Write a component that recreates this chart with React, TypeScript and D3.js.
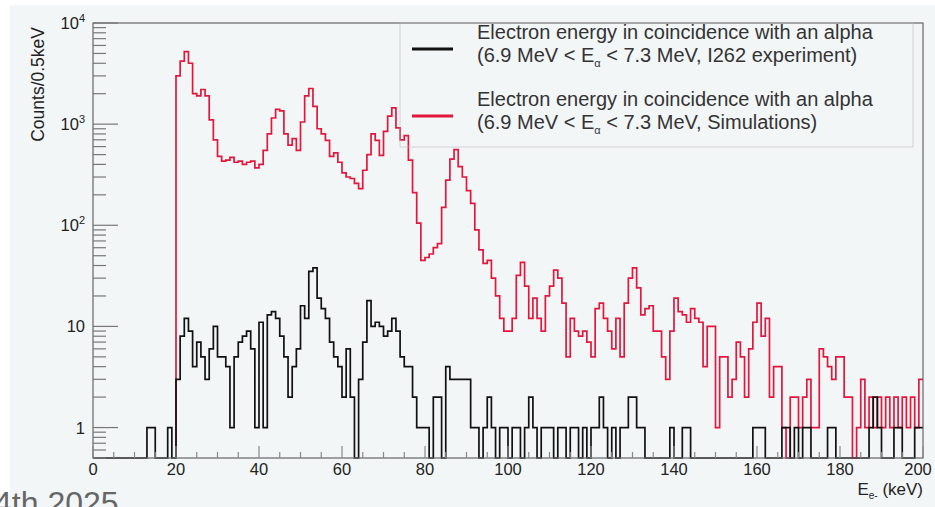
import React, { useEffect, useRef } from 'react';
import * as d3 from 'd3';

// histogram contents, 1 keV bins
const blackStart = 0;
const blackCounts = [
  0, 0, 0, 0, 0, 0, 0, 0, 0, 0, 0, 0, 0,
  1, 1, 0, 0, 0, 1, 0,
  3, 8, 12, 9, 4, 7, 5, 3, 6, 10,
  5, 5, 4, 1, 5, 7, 8, 9, 6, 1,
  11, 1, 13, 14, 12, 8, 5, 2, 4, 6,
  16, 12, 35, 38, 19, 15, 12, 7, 5, 4,
  2, 6, 2, 0, 3, 7, 18, 10, 11, 10,
  8, 9, 12, 9, 5, 4, 4, 2, 1, 1,
  1, 0, 2, 2, 0, 4, 3, 3, 3, 3,
  3, 1, 1, 0, 1, 2, 1, 0, 1, 1,
  0, 1, 1, 0, 1, 2, 1, 0, 1, 1,
  1, 0, 1, 1, 0, 1, 1, 0, 1, 0,
  1, 1, 2, 1, 0, 1, 0, 1, 1, 2,
  2, 1, 1, 0, 0, 0, 0, 0, 0, 1,
  0, 0, 1, 1, 0, 0, 0, 0, 0, 0,
  0, 0, 0, 0, 0, 0, 0, 0, 0, 1,
  1, 1, 0, 0, 0, 0, 1, 1, 0, 1,
  0, 1, 1, 0, 0, 0, 0, 1, 1, 0,
  0, 0, 0, 0, 0, 0, 0, 1, 2, 1,
  0, 0, 0, 1, 1, 0, 0, 0, 1, 1,
];

const redStart = 20;
const redCounts = [
  3000, 4200, 5200, 4000, 2000, 1900, 2200, 1900, 1100, 700,
  480, 430, 440, 470, 420, 430, 400, 420, 430, 370,
  400, 550, 800, 1150, 1400, 1350, 800, 620, 720, 550,
  1050, 1900, 2250, 1500, 900, 800, 690, 480, 520, 420,
  330, 300, 290, 260, 230, 350, 500, 800, 690, 490,
  850, 1200, 1450, 920, 700, 770, 440, 210, 105, 45,
  48, 52, 60, 66, 150, 280, 450, 560, 380, 300,
  220, 165, 90, 57, 42, 45, 30, 20, 12, 9,
  9, 12, 32, 43, 25, 12, 19, 12, 9, 20,
  25, 36, 30, 17, 5, 12, 9, 8, 9, 7,
  5, 15, 17, 12, 9, 6, 12, 5, 17, 30,
  38, 24, 13, 15, 16, 9, 9, 5, 3, 9,
  19, 14, 13, 11, 15, 12, 11, 4, 10, 10,
  1, 5, 5, 2, 3, 7, 5, 2, 6, 11,
  17, 8, 12, 2, 4, 4, 1, 0, 2, 2,
  1, 2, 3, 1, 1, 6, 5, 4, 3, 5,
  5, 2, 2, 0, 1, 3, 1, 2, 1, 2,
  1, 2, 1, 2, 1, 2, 1, 2, 1, 3,
];

const xTicks = [0, 20, 40, 60, 80, 100, 120, 140, 160, 180, 200];
const yMajor = [1, 10, 100, 1000, 10000];
const yLabels = [['1', ''], ['10', ''], ['10', '2'], ['10', '3'], ['10', '4']];

const legendTitle = 'Electron energy in coincidence with an alpha';
const legendTails = [' < 7.3 MeV, I262 experiment)', ' < 7.3 MeV, Simulations)'];
const legendColors = ['#111111', '#e3173c'];

const font = '"Liberation Sans", Arial, sans-serif';

const App = () => {
  const svgRef = useRef(null);
  const width = 935;
  const height = 507;

  useEffect(() => {
    const svg = d3.select(svgRef.current);
    svg.selectAll('*').remove();

    const frame = { left: 93, right: 923, top: 23, bottom: 458 };

    const x = d3.scaleLinear().domain([0, 200]).range([frame.left, frame.right]);
    const y = d3
      .scaleLog()
      .domain([0.5, 10000])
      .range([frame.bottom, frame.top])
      .clamp(true);

    // pad background
    svg.append('rect').attr('width', width).attr('height', height).attr('fill', '#ffffff');
    svg
      .append('rect')
      .attr('x', 10)
      .attr('y', 5)
      .attr('width', width - 10)
      .attr('height', height - 5)
      .attr('fill', '#f3f6f7');

    // histograms as step lines
    const stepLine = d3
      .line()
      .x(d => x(d[0]))
      .y(d => y(d[1] > 0 ? d[1] : 0.5))
      .curve(d3.curveStepAfter);

    const toPoints = (start, counts) => {
      const pts = [[start, 0]];
      counts.forEach((c, i) => pts.push([start + i, c]));
      pts.push([start + counts.length, counts[counts.length - 1]]);
      return pts;
    };

    const plot = svg.append('g');
    plot
      .append('path')
      .attr('d', stepLine(toPoints(redStart, redCounts)))
      .attr('fill', 'none')
      .attr('stroke', legendColors[1])
      .attr('stroke-width', 1.7);
    plot
      .append('path')
      .attr('d', stepLine(toPoints(blackStart, blackCounts)))
      .attr('fill', 'none')
      .attr('stroke', legendColors[0])
      .attr('stroke-width', 1.7);

    // frame
    svg
      .append('rect')
      .attr('x', frame.left)
      .attr('y', frame.top)
      .attr('width', frame.right - frame.left)
      .attr('height', frame.bottom - frame.top)
      .attr('fill', 'none')
      .attr('stroke', '#666')
      .attr('stroke-width', 1.2);

    // y axis ticks
    const yMinor = [];
    [0.1, 1, 10, 100, 1000].forEach(dec => {
      for (let k = 2; k <= 9; k++) {
        const v = dec * k;
        if (v >= 0.5 && v <= 10000) yMinor.push(v);
      }
    });
    svg
      .append('g')
      .selectAll('line')
      .data(yMinor)
      .join('line')
      .attr('x1', frame.left)
      .attr('x2', frame.left + 13)
      .attr('y1', d => y(d))
      .attr('y2', d => y(d))
      .attr('stroke', '#777')
      .attr('stroke-width', 1.2);
    svg
      .append('g')
      .selectAll('line')
      .data(yMajor)
      .join('line')
      .attr('x1', frame.left)
      .attr('x2', frame.left + 25)
      .attr('y1', d => y(d))
      .attr('y2', d => y(d))
      .attr('stroke', '#777')
      .attr('stroke-width', 1.2);

    const yl = svg
      .append('g')
      .selectAll('text')
      .data(yMajor)
      .join('text')
      .attr('x', 85)
      .attr('y', d => y(d) + 6)
      .attr('text-anchor', 'end')
      .attr('font-family', font)
      .attr('font-size', 16.5)
      .attr('fill', '#222');
    yl.append('tspan').text((d, i) => yLabels[i][0]);
    yl.append('tspan')
      .attr('dy', -7)
      .attr('font-size', 11)
      .text((d, i) => yLabels[i][1]);

    svg
      .append('text')
      .attr('transform', 'translate(44,27) rotate(-90)')
      .attr('text-anchor', 'end')
      .attr('font-family', font)
      .attr('font-size', 17.5)
      .attr('fill', '#222')
      .text('Counts/0.5keV');

    // x axis ticks
    const xMinor = d3.range(0, 201, 5).filter(v => v % 20 !== 0);
    svg
      .append('g')
      .selectAll('line')
      .data(xMinor)
      .join('line')
      .attr('x1', d => x(d))
      .attr('x2', d => x(d))
      .attr('y1', frame.bottom)
      .attr('y2', frame.bottom - 6)
      .attr('stroke', '#888')
      .attr('stroke-width', 1.2);
    svg
      .append('g')
      .selectAll('line')
      .data(xTicks)
      .join('line')
      .attr('x1', d => x(d))
      .attr('x2', d => x(d))
      .attr('y1', frame.bottom)
      .attr('y2', frame.bottom - 12)
      .attr('stroke', '#888')
      .attr('stroke-width', 1.2);
    svg
      .append('g')
      .selectAll('text')
      .data(xTicks)
      .join('text')
      .attr('x', d => Math.min(x(d), 918))
      .attr('y', 475)
      .attr('text-anchor', 'middle')
      .attr('font-family', font)
      .attr('font-size', 16.5)
      .attr('fill', '#222')
      .text(d => d);

    const xt = svg
      .append('text')
      .attr('x', 923)
      .attr('y', 495)
      .attr('text-anchor', 'end')
      .attr('font-family', font)
      .attr('font-size', 17)
      .attr('fill', '#222');
    xt.append('tspan').text('E');
    xt.append('tspan').attr('dy', 4).attr('font-size', 10).text('e-');
    xt.append('tspan').attr('dy', -4).text(' (keV)');

    // legend (transparent box)
    const legend = svg.append('g');
    legend
      .append('rect')
      .attr('x', 400)
      .attr('y', frame.top)
      .attr('width', 513)
      .attr('height', 124)
      .attr('fill', 'none')
      .attr('stroke', '#bbb')
      .attr('stroke-width', 0.6);
    legendColors.forEach((c, i) => {
      const ly = 49 + i * 67;
      legend
        .append('line')
        .attr('x1', 412)
        .attr('x2', 453)
        .attr('y1', ly)
        .attr('y2', ly)
        .attr('stroke', c)
        .attr('stroke-width', 3);
      legend
        .append('text')
        .attr('x', 477)
        .attr('y', ly - 10)
        .attr('font-family', font)
        .attr('font-size', 20)
        .attr('fill', '#333')
        .text(legendTitle);
      const t = legend
        .append('text')
        .attr('x', 477)
        .attr('y', ly + 13)
        .attr('font-family', font)
        .attr('font-size', 20)
        .attr('fill', '#333');
      t.append('tspan').text('(6.9 MeV < E');
      t.append('tspan').attr('dy', 5).attr('font-size', 11).text('α');
      t.append('tspan').attr('dy', -5).text(legendTails[i]);
    });

    // footer fragment from the slide (cut by the page edge, as in the source)
    svg
      .append('text')
      .attr('x', -6)
      .attr('y', 514)
      .attr('font-family', font)
      .attr('font-size', 32)
      .attr('fill', '#666')
      .text('4th 2025');
  }, []);

  return (
    <svg
      ref={svgRef}
      width={width}
      height={height}
      style={{ position: 'absolute', left: 0, top: 0 }}
    ></svg>
  );
};

export default App;
